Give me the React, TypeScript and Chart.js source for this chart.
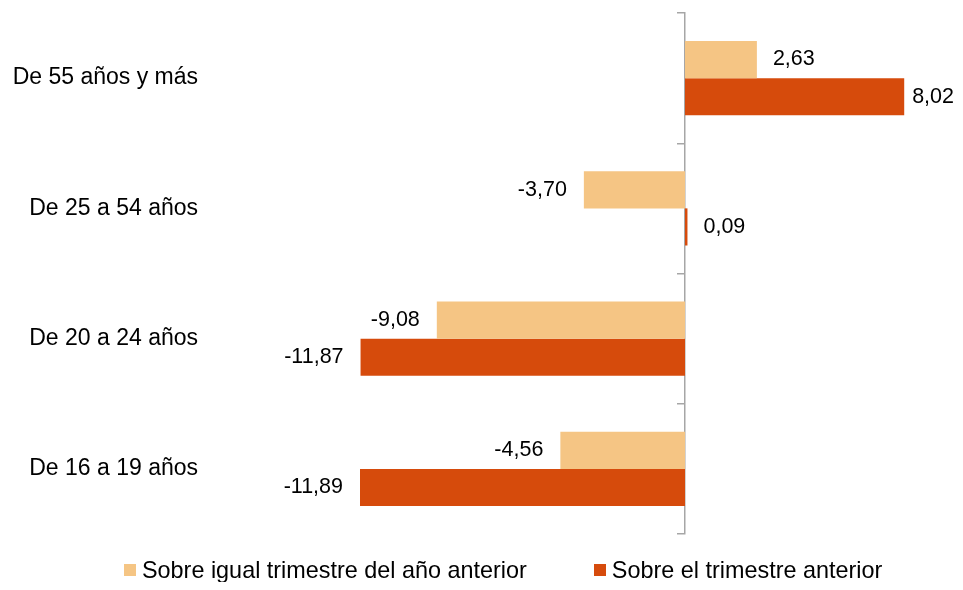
import React, { useEffect, useRef } from "react";
import { Chart, registerables } from "chart.js";

Chart.register(...registerables);

const categories = ["De 55 años y más", "De 25 a 54 años", "De 20 a 24 años", "De 16 a 19 años"];
const seriesNames = ["Sobre igual trimestre del año anterior", "Sobre el trimestre anterior"];
const yearOnYear = [2.63, -3.7, -9.08, -4.56];
const quarterOnQuarter = [8.02, 0.09, -11.87, -11.89];
const seriesColors = ["#F5C584", "#D64B0C"];

const FONT = '"Liberation Sans", Arial, Helvetica, sans-serif';

// value labels beside each bar, clamped so they stay inside the canvas
const valueLabels = {
  id: "valueLabels",
  afterDatasetsDraw(chart: any) {
    const ctx = chart.ctx;
    ctx.save();
    ctx.font = `21.5px ${FONT}`;
    ctx.fillStyle = "#000000";
    ctx.textBaseline = "middle";
    ctx.textAlign = "left";
    chart.data.datasets.forEach((ds: any, di: number) => {
      const meta = chart.getDatasetMeta(di);
      meta.data.forEach((bar: any, i: number) => {
        const v = ds.data[i] as number;
        const text = v.toFixed(2).replace(".", ",");
        const w = ctx.measureText(text).width;
        let x = v >= 0 ? bar.x + 16 : bar.x - 17 - w;
        x = Math.max(1, Math.min(x, chart.width - w - 1));
        ctx.fillText(text, x, bar.y);
      });
    });
    ctx.restore();
  },
};

export default function App() {
  const canvasRef = useRef<HTMLCanvasElement | null>(null);

  useEffect(() => {
    if (!canvasRef.current) return;
    const chart = new Chart(canvasRef.current, {
      type: "bar",
      data: {
        labels: categories,
        datasets: [
          {
            label: seriesNames[0],
            data: yearOnYear,
            backgroundColor: seriesColors[0],
            categoryPercentage: 0.57,
            barPercentage: 1,
          },
          {
            label: seriesNames[1],
            data: quarterOnQuarter,
            backgroundColor: seriesColors[1],
            categoryPercentage: 0.57,
            barPercentage: 1,
          },
        ],
      },
      options: {
        indexAxis: "y",
        animation: false,
        responsive: false,
        layout: { padding: { left: 0, right: 24, top: 5, bottom: 48 } },
        plugins: {
          legend: { display: false },
          tooltip: { enabled: false },
        },
        scales: {
          x: { type: "linear", min: -12, max: 9, display: false },
          y: {
            type: "category",
            position: "left",
            offset: true,
            grid: { display: false, drawTicks: false },
            border: { display: false },
            ticks: {
              padding: 159,
              color: "#000000",
              font: { size: 23, family: FONT },
            },
            afterFit: (s: any) => {
              s.width = 349;
              s.paddingTop = 0;
              s.paddingBottom = 0;
            },
          },
          y2: {
            type: "category",
            labels: categories,
            position: { x: 0 },
            offset: true,
            grid: {
              offset: true,
              drawOnChartArea: false,
              drawTicks: true,
              tickLength: 7,
              color: "#A6A6A6",
              lineWidth: 1.5,
            },
            border: { display: true, color: "#A6A6A6", width: 1.5 },
            ticks: { display: false },
            afterFit: (s: any) => {
              s.paddingTop = 0;
              s.paddingBottom = 0;
            },
          },
        } as any,
      },
      plugins: [valueLabels],
    } as any);
    return () => chart.destroy();
  }, []);

  return (
    <div style={{ position: "relative", width: 947, height: 574 }}>
      <canvas ref={canvasRef} width={947} height={574} style={{ display: "block", width: 947, height: 574 }} />
      <div
        style={{
          position: "absolute",
          left: 116,
          top: 550,
          height: 24,
          display: "flex",
          alignItems: "center",
          fontFamily: FONT,
          fontSize: "23.4px",
          lineHeight: "24px",
          color: "#000000",
          whiteSpace: "nowrap",
        }}
      >
        {seriesNames.map((name, i) => (
          <span key={name} style={{ display: "flex", alignItems: "center", marginRight: i === 0 ? 67 : 0 }}>
            <span style={{ display: "inline-block", width: 12, height: 12, background: seriesColors[i], marginRight: 6 }} />
            {name}
          </span>
        ))}
      </div>
    </div>
  );
}
